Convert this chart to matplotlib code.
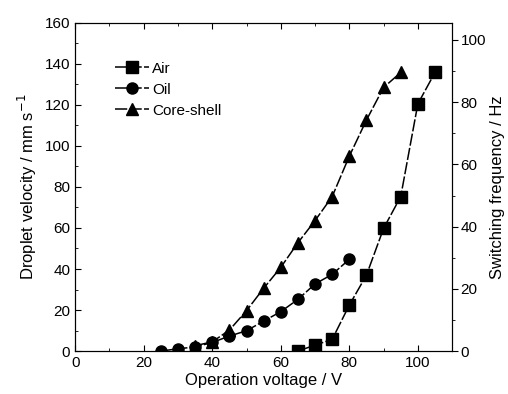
import matplotlib.pyplot as plt
from matplotlib.ticker import MultipleLocator

plt.rcParams['font.family'] = ['Liberation Sans', 'DejaVu Sans']

# droplet velocity (mm/s) vs operation voltage (V)
air_v = [65, 70, 75, 80, 85, 90, 95, 100, 105]
air_vel = [0, 2.9, 5.7, 22.4, 37, 59.8, 75.3, 120.5, 135.8]
oil_v = [25, 30, 35, 40, 45, 50, 55, 60, 65, 70, 75, 80]
oil_vel = [0, 1.1, 2.0, 4.2, 7.3, 9.9, 14.6, 19.2, 25.2, 32.7, 37.4, 44.7]
cs_v = [35, 40, 45, 50, 55, 60, 65, 70, 75, 80, 85, 90, 95]
cs_vel = [2.6, 4.5, 10.2, 19.7, 30.6, 40.8, 52.8, 63.6, 75.3, 95, 112.6, 128.5, 135.8]

fig = plt.figure(figsize=(5.08, 3.94), dpi=100)
ax = fig.add_axes([0.148, 0.109, 0.742, 0.833])

dash = (0, (8, 1.5))
ax.plot(air_v, air_vel, color='black', ls=dash, lw=1.1, marker='s', ms=8, label='Air')
ax.plot(oil_v, oil_vel, color='black', ls=dash, lw=1.1, marker='o', ms=8, label='Oil')
ax.plot(cs_v, cs_vel, color='black', ls=dash, lw=1.1, marker='^', ms=9, label='Core-shell')

ax.set_xlim(0, 110)
ax.set_ylim(0, 160)
ax.xaxis.set_major_locator(MultipleLocator(20))
ax.xaxis.set_minor_locator(MultipleLocator(10))
ax.yaxis.set_major_locator(MultipleLocator(20))
ax.yaxis.set_minor_locator(MultipleLocator(10))
ax.tick_params(which='both', direction='in', top=True, labelsize=11)
ax.tick_params(which='major', length=4)
ax.tick_params(which='minor', length=2)
ax.set_xlabel('Operation voltage / V', fontsize=12, labelpad=2)
ax.set_ylabel('Droplet velocity / mm s$^{-1}$', fontsize=12, labelpad=4)

ax2 = ax.twinx()
ax2.set_ylim(0, 105.5)
ax2.yaxis.set_major_locator(MultipleLocator(20))
ax2.yaxis.set_minor_locator(MultipleLocator(10))
ax2.tick_params(which='both', direction='out', labelsize=11, pad=2)
ax2.tick_params(which='major', length=4)
ax2.tick_params(which='minor', length=2)
ax2.set_ylabel('Switching frequency / Hz', fontsize=12, labelpad=3)

ax.legend(loc='upper left', bbox_to_anchor=(0.09, 0.9), frameon=False,
          fontsize=11, handlelength=2.2, handletextpad=0.2, labelspacing=0.45,
          borderaxespad=0)

fig.savefig('out.png', dpi=100)
